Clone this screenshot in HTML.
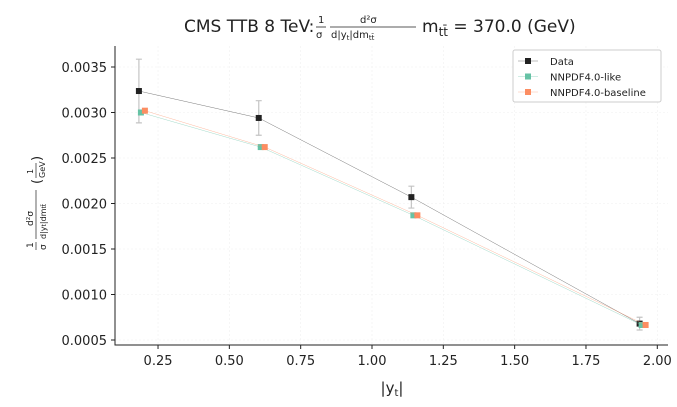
<!DOCTYPE html>
<html><head><meta charset="utf-8"><style>
body{margin:0;background:#fff;font-family:"Liberation Sans","DejaVu Sans",sans-serif;overflow:hidden}
svg{display:block}
svg text{font-family:"DejaVu Sans","Liberation Sans",sans-serif}
</style></head><body>
<svg id="chart" width="677" height="407" viewBox="0 0 677 407" xmlns="http://www.w3.org/2000/svg">
<g id="title">
<text x="184" y="32" font-size="17" fill="#222">CMS TTB 8 TeV:</text>
<text x="318" y="23" font-size="10" fill="#222">1</text>
<line x1="316" y1="27" x2="326" y2="27" stroke="#222" stroke-width="0.8"/>
<text x="316" y="38" font-size="10" fill="#222">σ</text>
<text x="360" y="23" font-size="10" fill="#222">d²σ</text>
<line x1="330" y1="27" x2="416" y2="27" stroke="#222" stroke-width="0.8"/>
<text x="331" y="38" font-size="10" fill="#222">d|y<tspan font-size="7" dy="2">t</tspan><tspan dy="-2">|dm</tspan><tspan font-size="7" dy="2">tt̄</tspan></text>
<text x="422" y="32" font-size="17" fill="#222">m<tspan font-size="12" dy="4">tt̄</tspan><tspan dy="-4"> = 370.0 (GeV)</tspan></text>
</g>
<g id="grid"></g>
<g id="axes"></g>
<g id="series"></g>
<g id="legend">
<rect x="513" y="50" width="148" height="52" fill="#fff" stroke="#ccc" rx="2"/>
</g>
<text x="392" y="393" font-size="15" text-anchor="middle" fill="#222">|y<tspan font-size="10" dy="3">t</tspan><tspan dy="-3">|</tspan></text>
<g transform="translate(33,196) rotate(-90)">
<text x="-52" y="0" font-size="9" fill="#222">1</text>
<line x1="-54" y1="3" x2="-46" y2="3" stroke="#222" stroke-width="0.7"/>
<text x="-54" y="13" font-size="9" fill="#222">σ</text>
<text x="-30" y="0" font-size="9" fill="#222">d²σ</text>
<line x1="-43" y1="3" x2="6" y2="3" stroke="#222" stroke-width="0.7"/>
<text x="-43" y="13" font-size="8" fill="#222">d|y<tspan font-size="6">t</tspan>|dm<tspan font-size="6">tt̄</tspan></text>
<text x="12" y="8" font-size="13" fill="#222">(</text>
<text x="22" y="0" font-size="8" fill="#222">1</text>
<line x1="18" y1="3" x2="33" y2="3" stroke="#222" stroke-width="0.7"/>
<text x="18" y="12" font-size="8" fill="#222">GeV</text>
<text x="35" y="8" font-size="13" fill="#222">)</text>
</g>
</svg>
<script>
const xCats = [0.19, 0.61, 1.145, 1.945];
const dataVals = [0.003236, 0.00294, 0.00207, 0.00068];
const dataErr = [0.00035, 0.00019, 0.00012, 0.00007];
const likeVals = [0.0030, 0.00262, 0.00187, 0.000665];
const baseVals = [0.00302, 0.00262, 0.00187, 0.000665];
const xTicks = [0.25, 0.5, 0.75, 1.0, 1.25, 1.5, 1.75, 2.0];
const xTickLabels = ["0.25","0.50","0.75","1.00","1.25","1.50","1.75","2.00"];
const yTicks = [0.0005,0.001,0.0015,0.002,0.0025,0.003,0.0035];
const yTickLabels = ["0.0005","0.0010","0.0015","0.0020","0.0025","0.0030","0.0035"];

const L=115,R=668,T=46,B=345;
const sx=v=>86.7+v*285.3;
const sy=v=>340-(v-0.0005)*91000;
const NS="http://www.w3.org/2000/svg";
function mk(parent,tag,attrs,text){const e=document.createElementNS(NS,tag);for(const k in attrs)e.setAttribute(k,attrs[k]);if(text!==undefined)e.textContent=text;document.getElementById(parent).appendChild(e);return e;}

xTicks.forEach((t,i)=>{
  const g=mk('grid','line',{x1:sx(t),x2:sx(t),y1:T,y2:B,stroke:'#f0f0f0','stroke-width':0.6,'stroke-dasharray':'2,2'});
  
  
  const tk=mk('axes','line',{x1:sx(t),x2:sx(t),y1:B,y2:B+4,stroke:'#222'});
  
  
  const lb=mk('axes','text',{x:sx(t),y:B+20,'font-size':13,'text-anchor':'middle',fill:'#222'},xTickLabels[i]);
  
  
});
yTicks.forEach((t,i)=>{
  const g=mk('grid','line',{x1:L,x2:R,y1:sy(t),y2:sy(t),stroke:'#f0f0f0','stroke-width':0.6,'stroke-dasharray':'2,2'});
  
  
  const tk=mk('axes','line',{x1:L-4,x2:L,y1:sy(t),y2:sy(t),stroke:'#222'});
  
  
  const lb=mk('axes','text',{x:L-8,y:sy(t)+5,'font-size':13,'text-anchor':'end',fill:'#222'},yTickLabels[i]);
  
  
});
const ax=mk('axes','path',{d:`M${L},${T}V${B}H${R}`,fill:'none',stroke:'#222','stroke-width':1});



function series(vals,color,dx,name,err){
  const pts=xCats.map((x,i)=>[sx(x)+dx,sy(vals[i])]);
  const pl=mk('series','polyline',{points:pts.map(p=>p.join(',')).join(' '),fill:'none',stroke:color,'stroke-width':0.5,opacity:0.6});
  
  
  pts.forEach((p,i)=>{
    if(err){
      const e=mk('series','path',{d:`M${p[0]},${sy(vals[i]+err[i])}V${sy(vals[i]-err[i])}M${p[0]-3},${sy(vals[i]+err[i])}h6M${p[0]-3},${sy(vals[i]-err[i])}h6`,stroke:'#c4c4c4','stroke-width':1.2,fill:'none'});
      
      
    }
    const m=mk('series','rect',{x:p[0]-3,y:p[1]-3,width:6,height:6,fill:color});
    
    
  });
}
series(dataVals,'#222',-2,'data',dataErr);
series(likeVals,'#66c2a5',0,'nnpdf40-like');
series(baseVals,'#fc8d62',4,'nnpdf40-baseline');

[['Data','#222'],['NNPDF4.0-like','#66c2a5'],['NNPDF4.0-baseline','#fc8d62']].forEach((d,i)=>{
  const y=61+i*15.5;
  const l=mk('legend','line',{x1:518,x2:538,y1:y,y2:y,stroke:d[1],'stroke-width':0.5,opacity:0.6});
  
  
  const r=mk('legend','rect',{x:525,y:y-3,width:6,height:6,fill:d[1]});
  
  
  const t=mk('legend','text',{x:550,y:y+4,'font-size':10,fill:'#222'},d[0]);
  
  
});
</script>
</body></html>
